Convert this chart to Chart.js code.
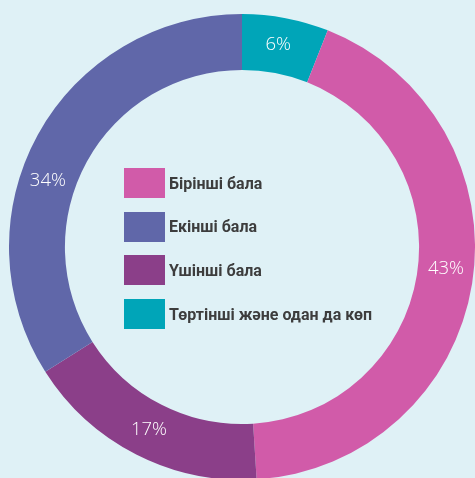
<!DOCTYPE html>
<html>
<head>
<meta charset="utf-8">
<script src="https://cdn.jsdelivr.net/npm/chart.js@4"></script>
<style>
  html, body { margin: 0; padding: 0; }
  body { width: 475px; height: 478px; overflow: hidden; background: #dff1f6; position: relative; font-family: Roboto, sans-serif; }
  #donut { position: absolute; left: 9px; top: 14px; }
  #legend { position: absolute; left: 124px; top: 168px; }
  .row { display: flex; align-items: center; height: 30px; margin-bottom: 13.7px; }
  .sw { width: 41px; height: 30px; margin-right: 4px; }
  .lb { font-weight: bold; font-size: 16px; color: #3d3d3d; }
</style>
</head>
<body>
<canvas id="donut" width="466" height="466"></canvas>
<div id="legend"></div>
<script>
// legend order
const categories = ['Бірінші бала', 'Екінші бала', 'Үшінші бала', 'Төртінші және одан да көп'];
const shares = [43, 34, 17, 6];
const colors = ['#d15ba9', '#6067a9', '#8b3f89', '#00a5b8'];
// clockwise order of the ring, starting at 12 o'clock
const ringOrder = [3, 0, 2, 1];
// small nudges (degrees) of the % labels, legend order
const labelShift = [-3, -10, 0, -0.6];

document.getElementById('legend').innerHTML = categories.map((c, i) =>
  `<div class="row"><div class="sw" style="background:${colors[i]}"></div><div class="lb">${c}</div></div>`).join('');

const pctLabels = {
  id: 'pctLabels',
  afterDatasetsDraw(chart) {
    const ctx = chart.ctx;
    const meta = chart.getDatasetMeta(0);
    ctx.save();
    ctx.fillStyle = '#ffffff';
    ctx.font = '300 18.5px "Open Sans", sans-serif';
    ctx.textAlign = 'center';
    ctx.textBaseline = 'middle';
    meta.data.forEach((arc, i) => {
      const p = arc.getProps(['x', 'y', 'startAngle', 'endAngle', 'innerRadius', 'outerRadius'], true);
      const a = (p.startAngle + p.endAngle) / 2 + labelShift[ringOrder[i]] * Math.PI / 180;
      const r = (p.innerRadius + p.outerRadius) / 2;
      ctx.fillText(chart.data.datasets[0].data[i] + '%', p.x + Math.cos(a) * r, p.y + Math.sin(a) * r);
    });
    ctx.restore();
  }
};

new Chart(document.getElementById('donut'), {
  type: 'doughnut',
  data: {
    labels: ringOrder.map(i => categories[i]),
    datasets: [{
      data: ringOrder.map(i => shares[i]),
      backgroundColor: ringOrder.map(i => colors[i]),
      borderWidth: 0
    }]
  },
  options: {
    responsive: false,
    animation: false,
    cutout: '76%',
    layout: { padding: 0 },
    plugins: { legend: { display: false }, tooltip: { enabled: false } }
  },
  plugins: [pctLabels]
});
</script>
</body>
</html>
